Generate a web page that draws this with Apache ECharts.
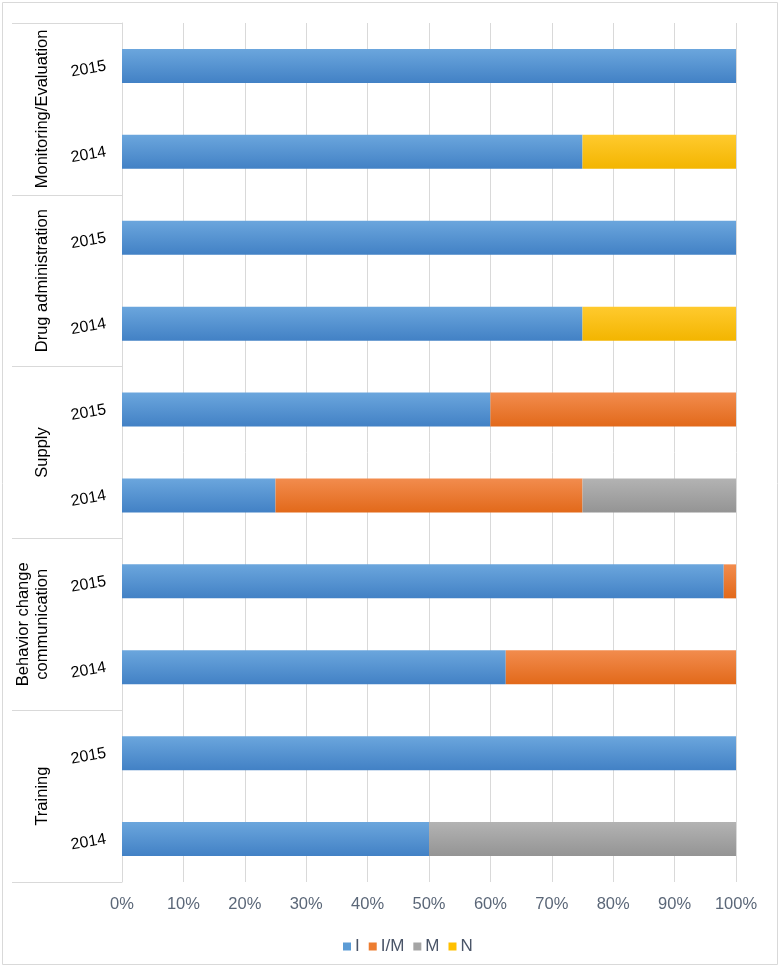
<!DOCTYPE html>
<html><head><meta charset="utf-8">
<script src="https://cdn.jsdelivr.net/npm/echarts@6/dist/echarts.min.js"></script>
<style>html,body{margin:0;padding:0;background:#fff}#c{width:781px;height:969px}</style>
</head><body><div id="c"></div>
<script>
// bottom to top
var years = ['2014','2015','2014','2015','2014','2015','2014','2015','2014','2015'];
var groups = ['Training','Behavior change\ncommunication','Supply','Drug administration','Monitoring/Evaluation'];
var seriesNames = ['I','I/M','M','N'];
var valI  = [50, 100, 62.5, 98, 25, 60, 75, 100, 75, 100];
var valIM = [0, 0, 37.5, 2, 50, 40, 0, 0, 0, 0];
var valM  = [50, 0, 0, 0, 25, 0, 0, 0, 0, 0];
var valN  = [0, 0, 0, 0, 0, 0, 25, 0, 25, 0];
var xTicks = [0,10,20,30,40,50,60,70,80,90,100];

function grad(a,b){return new echarts.graphic.LinearGradient(0,0,0,1,[{offset:0,color:a},{offset:1,color:b}]);}
var colors = [['#6ba6dd','#4281c5'],['#f28c4e','#e2691a'],['#b3b3b3','#949494'],['#ffca2e','#f3b500']];
var legendColors = ['#5b9bd5','#ed7d31','#a5a5a5','#ffc000'];
var vals = [valI,valIM,valM,valN];

var chart = echarts.init(document.getElementById('c'));
chart.setOption({
  animation:false,
  graphic:[{type:'rect',shape:{x:2.5,y:2.5,width:775,height:962},style:{fill:'none',stroke:'#d9d9d9',lineWidth:1},silent:true}],
  grid:{left:122,right:45,top:23,bottom:87},
  legend:{bottom:9,left:338,itemWidth:8,itemHeight:8,itemGap:9,icon:'rect',
    textStyle:{fontFamily:'Liberation Sans',fontSize:17,color:'#4a5568',padding:[0,0,0,-1]},
    data:seriesNames.map(function(n,i){return {name:n,itemStyle:{color:legendColors[i]}};})},
  xAxis:{type:'value',min:0,max:100,interval:10,
    axisLine:{show:false},axisTick:{show:false},
    splitLine:{lineStyle:{color:'#d9d9d9',width:1}},
    axisLabel:{formatter:function(v){return v+'%';},fontFamily:'Liberation Sans',fontSize:16.5,color:'#5b6778',margin:14}},
  yAxis:[{type:'category',data:years,
    axisLine:{lineStyle:{color:'#d9d9d9'}},axisTick:{show:false},
    axisLabel:{interval:0,rotate:10,fontFamily:'Liberation Sans',fontSize:16,color:'#000',margin:16}},
   {type:'category',data:groups,position:'left',
    axisLine:{show:false},axisTick:{show:true,interval:0,length:110,lineStyle:{color:'#d9d9d9'}},
    axisLabel:{interval:0,rotate:90,fontFamily:'Liberation Sans',fontSize:16.5,color:'#000',margin:70,lineHeight:19}}],
  series:seriesNames.map(function(n,i){return {name:n,type:'bar',stack:'s',barWidth:34,yAxisIndex:0,
    itemStyle:{color:grad(colors[i][0],colors[i][1])},data:vals[i]};})
});
</script></body></html>
